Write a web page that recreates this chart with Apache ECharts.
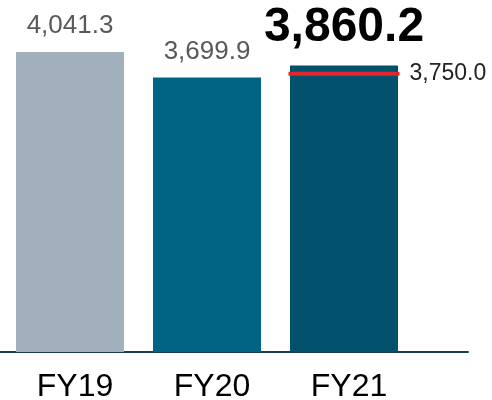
<!DOCTYPE html>
<html>
<head>
<meta charset="utf-8">
<script src="https://cdn.jsdelivr.net/npm/echarts@6/dist/echarts.min.js"></script>
<style>
html,body{margin:0;padding:0;background:#fff;}
#chart{width:492px;height:400px;}
</style>
</head>
<body>
<div id="chart"></div>
<script>
const categories = ['FY19', 'FY20', 'FY21'];
const values = [4041.3, 3699.9, 3860.2];
const barColors = ['#a1b0bc', '#016484', '#01506c'];
const targetCategory = 'FY21';
const targetValue = 3750.0;

function fmt(v) {
  return Number(v).toLocaleString('en-US', {minimumFractionDigits: 1, maximumFractionDigits: 1});
}

const FONT = 'Arial, "Liberation Sans", sans-serif';

const barData = values.map((v, i) => {
  const last = i === values.length - 1;
  return {
    value: v,
    itemStyle: {color: barColors[i]},
    label: last ? {
      fontSize: 48, fontWeight: 'bold', color: '#000', distance: 14
    } : {
      fontSize: 26, fontWeight: 'normal', color: '#595959', distance: 13
    }
  };
});

const chart = echarts.init(document.getElementById('chart'), null, {renderer: 'canvas'});
chart.setOption({
  animation: false,
  backgroundColor: '#fff',
  grid: [
    {left: 1.5, width: 411, top: 18, bottom: 48, containLabel: false, outerBoundsMode: 'none'},
    {left: 0, width: 468, top: 18, bottom: 48, containLabel: false, outerBoundsMode: 'none'}
  ],
  xAxis: [
    {
      type: 'category', gridIndex: 0, data: categories,
      axisLine: {show: false}, axisTick: {show: false},
      axisLabel: {fontSize: 32, color: '#000', fontFamily: FONT, margin: 19, padding: [0, 0, 0, 10]}
    },
    {
      type: 'value', gridIndex: 1, min: 0, max: 1,
      axisLine: {show: true, onZero: false, lineStyle: {color: '#1c3a4e', width: 2}},
      axisTick: {show: false}, axisLabel: {show: false}, splitLine: {show: false}
    }
  ],
  yAxis: [
    {type: 'value', gridIndex: 0, min: 0, max: 4500, show: false, splitLine: {show: false}},
    {type: 'value', gridIndex: 1, min: 0, max: 1, show: false, splitLine: {show: false}}
  ],
  series: [
    {
      type: 'bar', xAxisIndex: 0, yAxisIndex: 0,
      barWidth: 108,
      data: barData,
      label: {
        show: true, position: 'top', fontFamily: FONT,
        formatter: p => fmt(p.value)
      }
    },
    {
      type: 'custom', xAxisIndex: 0, yAxisIndex: 0, z: 10,
      data: [[targetCategory, targetValue]],
      encode: {x: 0, y: 1},
      renderItem: function (params, api) {
        const p = api.coord([api.value(0), api.value(1)]);
        const half = 55.5;
        return {
          type: 'group',
          children: [
            {type: 'line', shape: {x1: p[0] - half, y1: p[1], x2: p[0] + half, y2: p[1]},
             style: {stroke: '#e3262b', lineWidth: 4}},
            {type: 'text', x: p[0] + half + 10, y: p[1],
             style: {text: fmt(api.value(1)), fill: '#222', font: '23px ' + FONT,
                     textAlign: 'left', textVerticalAlign: 'middle', align: 'left', verticalAlign: 'middle'}}
          ]
        };
      }
    }
  ]
});
</script>
</body>
</html>
